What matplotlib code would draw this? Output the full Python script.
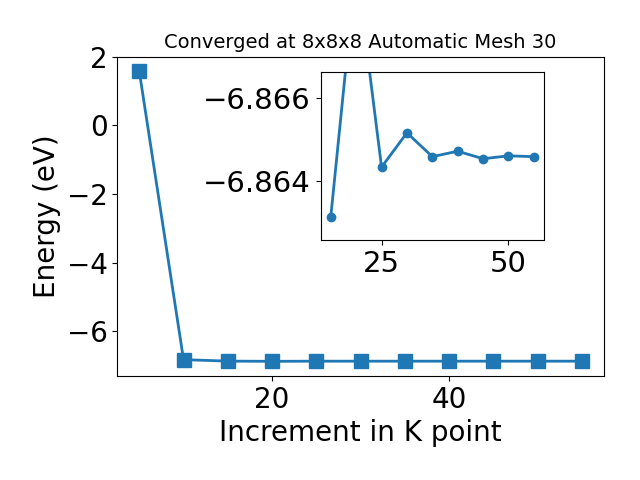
import matplotlib
matplotlib.use('Agg')
import matplotlib.pyplot as plt

# k-point increments and total energies (eV)
kpoints = [5, 10, 15, 20, 25, 30, 35, 40, 45, 50, 55]
energies = [1.58, -6.82, -6.86316, -6.86916, -6.86434, -6.86516,
            -6.86459, -6.86472, -6.86454, -6.86461, -6.86459]

plt.rcParams['font.size'] = 20

fig = plt.figure(figsize=(6.4, 4.8), dpi=100)
ax = fig.add_axes([0.183, 0.217, 0.761, 0.665])
ax.plot(kpoints, energies, marker='s', markersize=10, linewidth=2)
ax.set_xlabel('Increment in K point')
ax.set_ylabel('Energy (eV)')
ax.set_title('Converged at 8x8x8 Automatic Mesh 30', fontsize=14)

# zoom on the converged part
inset = fig.add_axes([0.501, 0.5, 0.349, 0.349])
inset.plot(kpoints[2:], energies[2:], marker='o', linewidth=2)
inset.set_ylim(-6.8626, -6.8666)
inset.tick_params(labelsize=21)

fig.savefig('out.png')
